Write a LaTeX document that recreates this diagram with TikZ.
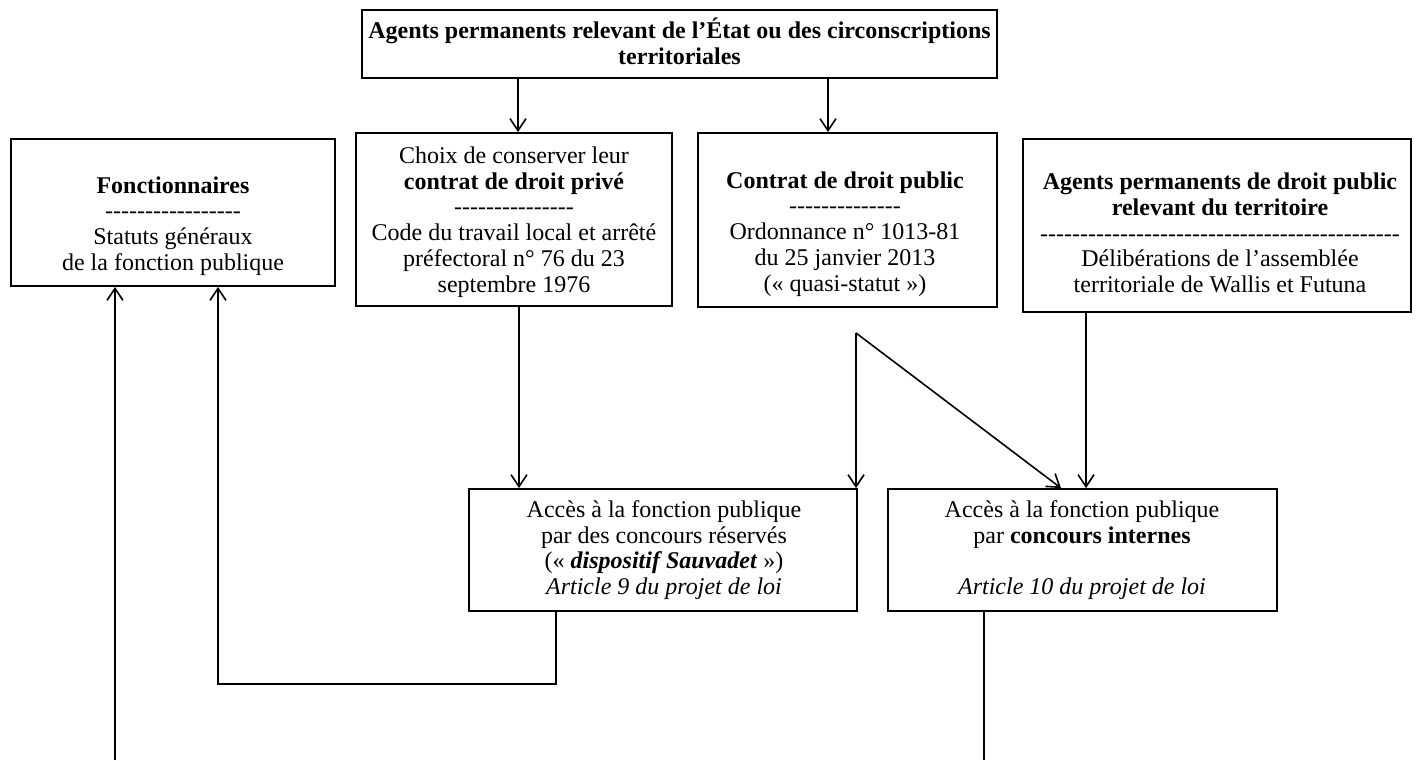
\documentclass[tikz,border=0pt]{standalone}
\usepackage{fontspec}
\setmainfont{Liberation Serif}
\usetikzlibrary{arrows.meta}
\newcommand\dashrow[1]{\foreach \i in {1,...,#1}{\mbox{-}}}
\tikzset{
  x=0.5pt, y=-0.5pt,
  box/.style={draw, line width=0.9pt, inner sep=0pt},
  txt/.style={align=center, inner sep=0pt, font=\fontsize{12}{12.9}\selectfont},
  conn/.style={line width=0.8pt},
  arr/.style={conn, -{Straight Barb[length=6pt,width=8pt]}},
}
\begin{document}
\begin{tikzpicture}
\useasboundingbox (0,0) rectangle (1418,760);
% boxes
\node[box, minimum width=317.5pt, minimum height=34pt] (T) at (679.5,44) {};
\node[box, minimum width=162pt, minimum height=73.5pt] (F) at (173,212.5) {};
\node[box, minimum width=158pt, minimum height=86.5pt] (C) at (514,219.5) {};
\node[box, minimum width=149.5pt, minimum height=87pt] (P) at (847.5,220) {};
\node[box, minimum width=194pt, minimum height=86.5pt] (A) at (1217,225.5) {};
\node[box, minimum width=194pt, minimum height=61pt] (R) at (663,550) {};
\node[box, minimum width=194.5pt, minimum height=61pt] (I) at (1082.5,550) {};
% texts
\node[txt] (Tt) at (679.5,41) {\textbf{Agents permanents relevant de l’État ou des circonscriptions}\\\textbf{territoriales}};
\node[txt] (Ft) at (173,226) {\textbf{Fonctionnaires}\\\dashrow{17}\\Statuts généraux\\de la fonction publique};
\node[txt] (Ct) at (514,222) {Choix de conserver leur\\\textbf{contrat de droit privé}\\\dashrow{15}\\Code du travail local et arrêté\\préfectoral n° 76 du 23\\septembre 1976};
\node[txt] (Pt) at (845,234) {\textbf{Contrat de droit public}\\\dashrow{14}\\Ordonnance n° 1013-81\\du 25 janvier 2013\\(« quasi-statut »)};
\node[txt] (At) at (1220,233) {\textbf{Agents permanents de droit public}\\\textbf{relevant du territoire}\\\dashrow{45}\\Délibérations de l’assemblée\\territoriale de Wallis et Futuna};
\node[txt] (Rt) at (664,550) {Accès à la fonction publique\\par des concours réservés\\(« \textbf{\textit{dispositif Sauvadet}} »)\\\textit{Article 9 du projet de loi}};
\node[txt] (It) at (1082,550) {Accès à la fonction publique\\par \textbf{concours internes}\\\mbox{}\\\textit{Article 10 du projet de loi}};
% helper coordinates
\coordinate (c1) at (518,0);
\coordinate (c2) at (828,0);
\coordinate (c3) at (519,0);
\coordinate (S) at (856,333);
\coordinate (c5) at (1061,0);
\coordinate (c6) at (1086,0);
\coordinate (c7) at (556,684);
\coordinate (c8) at (218,684);
\coordinate (bl) at (115,760);
\coordinate (br) at (984,760);
% connectors
\draw[arr] (T.south -| c1) -- (C.north -| c1);
\draw[arr] (T.south -| c2) -- (P.north -| c2);
\draw[arr] (C.south -| c3) -- (R.north -| c3);
\draw[arr] (S) -- (R.north -| S);
\draw[arr] (S) -- (I.north -| c5);
\draw[arr] (A.south -| c6) -- (I.north -| c6);
\draw[arr] (R.south -| c7) -- (c7) -- (c8) -- (F.south -| c8);
\draw[arr] (bl) -- (F.south -| bl);
\draw[conn] (I.south -| br) -- (br);
\end{tikzpicture}
\end{document}
